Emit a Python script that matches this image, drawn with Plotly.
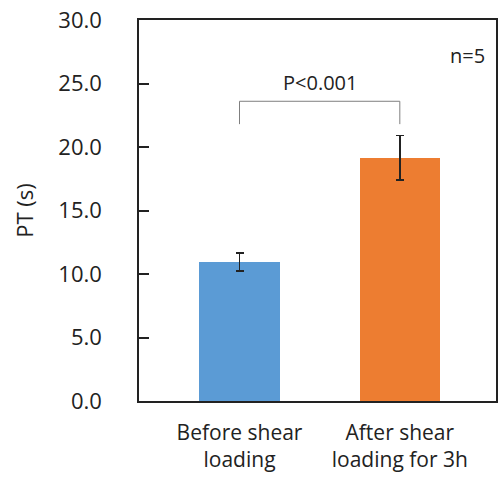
import plotly.graph_objects as go

categories = ["Before shear<br>loading", "After shear<br>loading for 3h"]
values = [10.95, 19.15]
errors = [0.7, 1.75]
colors = ["#5B9BD5", "#ED7D31"]
y_ticks = [0, 5, 10, 15, 20, 25, 30]
y_tick_labels = ["0.0", "5.0", "10.0", "15.0", "20.0", "25.0", "30.0"]
bracket_low = 21.8
bracket_high = 23.6
p_label = "P<0.001"
n_label = "n=5"

xpos = list(range(len(categories)))
font = "Open Sans, Noto Sans, sans-serif"

fig = go.Figure()
fig.add_trace(go.Bar(
    x=xpos, y=values, width=0.5,
    marker=dict(color=colors, line=dict(width=0)),
    error_y=dict(type="data", array=errors, visible=True, color="#222222", thickness=1.8, width=4),
    showlegend=False,
))
# invisible helper trace so the inside-tick overlay axis is rendered
fig.add_trace(go.Scatter(
    x=xpos, y=values, yaxis="y2", mode="markers",
    marker=dict(opacity=0), hoverinfo="skip", showlegend=False,
))

# significance bracket
fig.add_shape(type="line", x0=xpos[0], x1=xpos[0], y0=bracket_low, y1=bracket_high,
              line=dict(color="#7f7f7f", width=1))
fig.add_shape(type="line", x0=xpos[0], x1=xpos[1], y0=bracket_high, y1=bracket_high,
              line=dict(color="#7f7f7f", width=1))
fig.add_shape(type="line", x0=xpos[1], x1=xpos[1], y0=bracket_low, y1=bracket_high,
              line=dict(color="#7f7f7f", width=1))
fig.add_annotation(x=(xpos[0] + xpos[1]) / 2, y=bracket_high, text=p_label, showarrow=False,
                   yanchor="bottom", yshift=3, font=dict(size=20, color="#222222", family=font))
fig.add_annotation(x=1.425, y=27.2, text=n_label, showarrow=False,
                   font=dict(size=20, color="#222222", family=font))

fig.update_layout(
    width=499, height=479,
    margin=dict(l=139, r=1, t=20, b=78),
    paper_bgcolor="white", plot_bgcolor="white",
    font=dict(family=font, size=21, color="#222222"),
    bargap=0,
    xaxis=dict(
        range=[-0.627, 1.6], tickvals=xpos, ticktext=categories,
        showline=True, linecolor="#222222", linewidth=1.5, mirror=True,
        ticks="", showgrid=False, zeroline=False, ticklabelstandoff=12,
        tickfont=dict(size=21, family=font),
    ),
    yaxis=dict(
        range=[0, 30], tickmode="array", tickvals=y_ticks, ticktext=y_tick_labels,
        showline=True, linecolor="#222222", linewidth=1.5, mirror=True,
        ticks="outside", ticklen=31, tickwidth=1, tickcolor="rgba(0,0,0,0)",
        showgrid=False, zeroline=False,
        tickfont=dict(size=22, family=font),
        title=dict(text="PT (s)", font=dict(size=22, family=font), standoff=19),
    ),
    yaxis2=dict(
        overlaying="y", side="left", range=[0, 30], tickmode="array", tickvals=y_ticks,
        showticklabels=False, ticks="inside", ticklen=10, tickwidth=1.5, tickcolor="#222222",
        showline=False, showgrid=False, zeroline=False,
    ),
)
fig.write_html("out.html")
